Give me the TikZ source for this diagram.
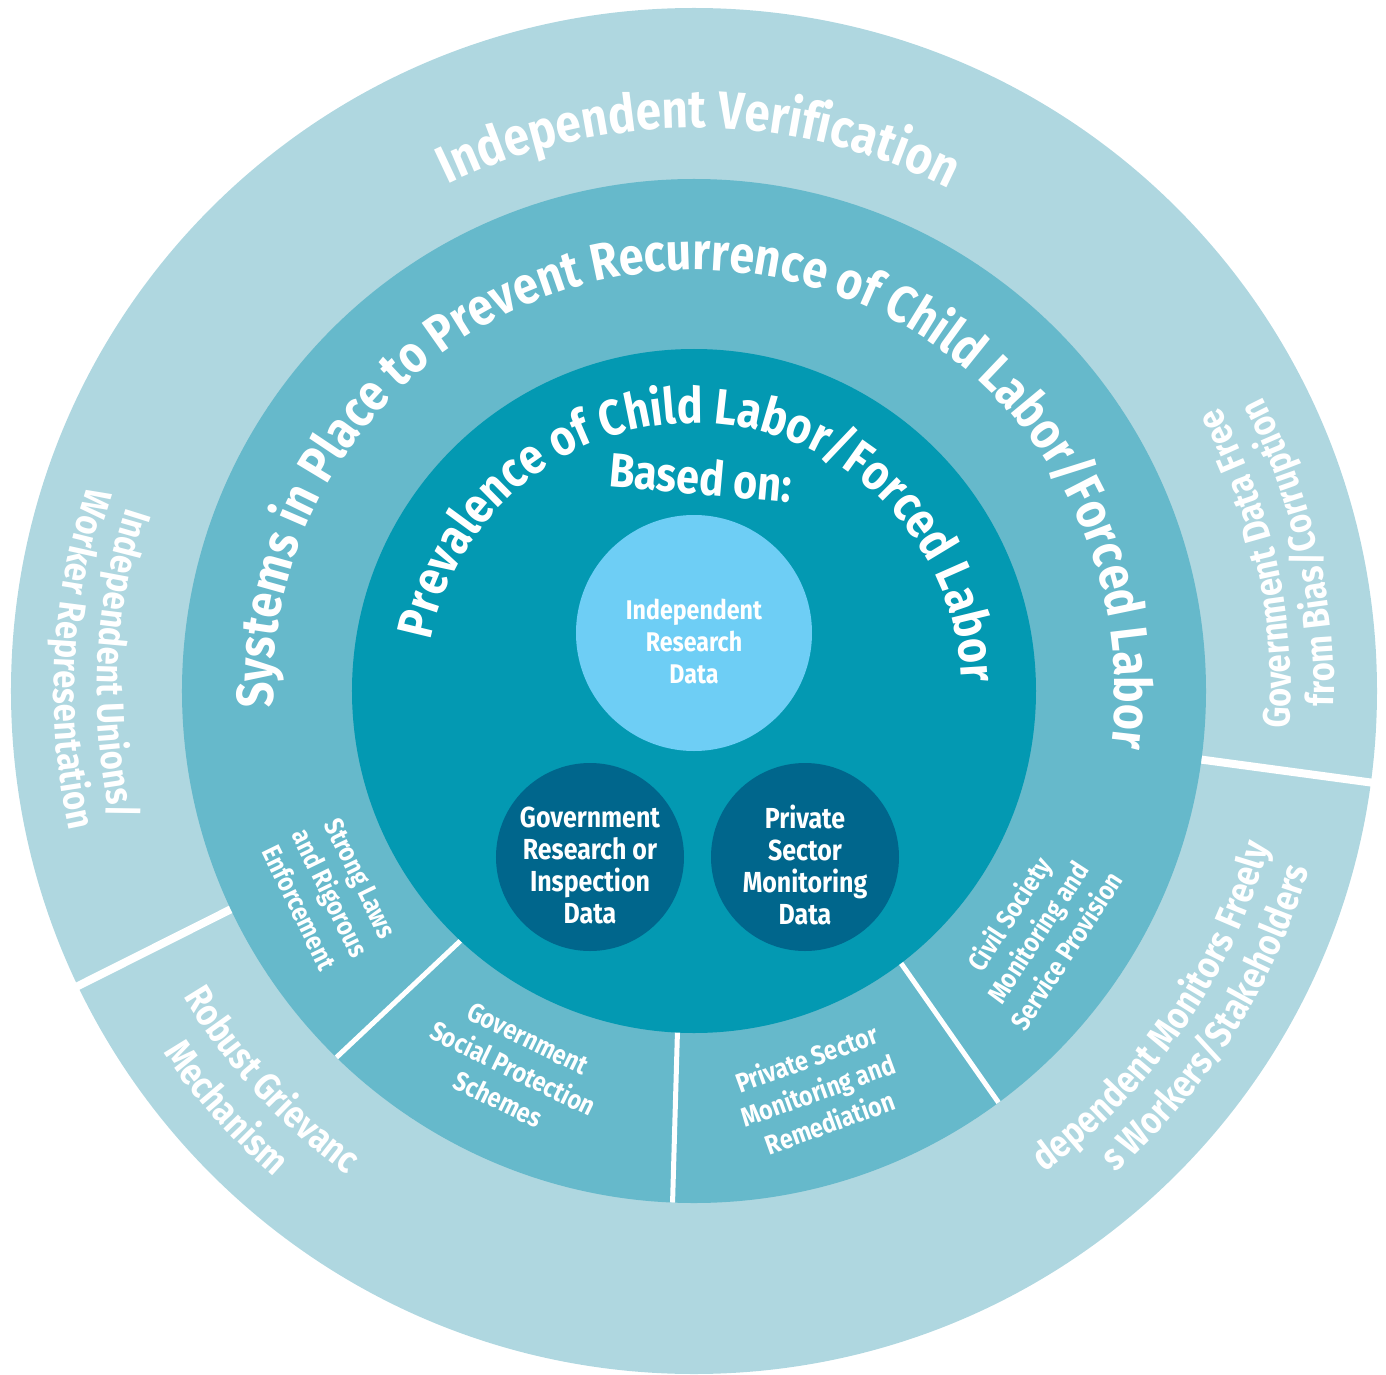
\documentclass[tikz,border=0pt]{standalone}
\usepackage{fontspec}
\setmainfont{Fira Sans}[FakeStretch=0.86]
\usetikzlibrary{decorations.text}
\definecolor{ringout}{RGB}{175,215,224}
\definecolor{ringmid}{RGB}{102,185,203}
\definecolor{ringin}{RGB}{3,153,178}
\definecolor{lightdot}{RGB}{110,206,245}
\definecolor{darkdot}{RGB}{0,102,140}
\newcommand\ringtext[5]{%
  \path[decorate, decoration={text along path, text align=center, text color=white,
    text={|\fontsize{#4}{#4}\selectfont\bfseries|#5}}]
    (#2:#1) arc[start angle=#2, end angle=#3, radius=#1];}
\tikzset{
  sepout/.style={white, line width=8pt},
  sepmid/.style={white, line width=5pt},
  segtext/.style={text=white, align=center, inner sep=0pt, font=\fontsize{27}{34}\selectfont\bfseries},
  circtext/.style={text=white, align=center, inner sep=0pt, font=\fontsize{29}{32}\selectfont\bfseries},
}
\begin{document}
\begin{tikzpicture}[x=1pt,y=1pt]
\useasboundingbox (-694,-683) rectangle (692,691);
% outer ring
\fill[ringout] (0,0) circle (683);
\coordinate (s1a) at (205.2:500); \coordinate (s1b) at (205.6:690);
\coordinate (s2a) at (-7.7:500);  \coordinate (s2b) at (-7.7:690);
\draw[sepout] (s1a) -- (s1b);
\draw[sepout] (s2a) -- (s2b);
% middle ring
\fill[ringmid] (0,0) circle (512);
\coordinate (m1a) at (227:335);   \coordinate (m1b) at (225.7:512);
\coordinate (m2a) at (267.2:335); \coordinate (m2b) at (267.6:512);
\coordinate (m3a) at (-52.7:335); \coordinate (m3b) at (-53.5:512);
\draw[sepmid] (m1a) -- (m1b);
\draw[sepmid] (m2a) -- (m2b);
\draw[sepmid] (m3a) -- (m3b);
% inner disk
\fill[ringin] (0,0) circle (342);
\node[circle, fill=lightdot, minimum size=236pt, inner sep=0pt] (ircirc) at (0,58) {};
\node[circle, fill=darkdot, minimum size=188pt, inner sep=0pt] (gvcirc) at (-104,-166) {};
\node[circle, fill=darkdot, minimum size=188pt, inner sep=0pt] (pvcirc) at (111,-166) {};
\node[circtext, font=\fontsize{27}{32}\selectfont\bfseries] (irtext) at (0,50) {Independent\\Research\\Data};
\node[circtext] (gvtext) at (-104,-174) {Government\\Research or\\Inspection\\Data};
\node[circtext] (pvtext) at (111,-174) {Private\\Sector\\Monitoring\\Data};
% inner curved title
\ringtext{268}{175.5}{-4.5}{50}{Prevalence of Child Labor/Forced Labor}
\node[text=white, inner sep=0pt, rotate=-5, font=\fontsize{48}{48}\selectfont\bfseries] (based) at (7,214) {Based on:};
% middle curved title
\ringtext{421}{187.3}{-12.7}{52}{Systems in Place to Prevent Recurrence of Child Labor/Forced Labor}
% middle segment labels
\node[segtext, rotate=-64] (laws) at (-364,-202) {Strong Laws\\and Rigorous\\Enforcement};
\node[segtext, rotate=-26] (social) at (-181,-378) {Government\\Social Protection\\Schemes};
\node[segtext, rotate=20] (psmr) at (124,-399) {Private Sector\\Monitoring and\\Remediation};
\node[segtext, rotate=57] (civil) at (343,-241) {Civil Society\\Monitoring and\\Service Provision};
% outer texts
\ringtext{563}{149.5}{29.5}{53}{Independent Verification}
\ringtext{597}{127.4}{227.4}{38}{Independent Unions/}
\ringtext{640}{127}{227}{38}{Worker Representation}
\ringtext{597}{-37.6}{62.4}{38}{Government Data Free}
\ringtext{640}{-37}{63}{38}{from Bias/Corruption}
\ringtext{595}{172.6}{272.6}{38}{Robust Grievanc}
\ringtext{642}{171.7}{271.7}{38}{Mechanism}
\ringtext{595}{-84.5}{15.5}{38}{dependent Monitors Freely}
\ringtext{640}{-82.5}{17.5}{38}{s Workers/Stakeholders}
\end{tikzpicture}
\end{document}
